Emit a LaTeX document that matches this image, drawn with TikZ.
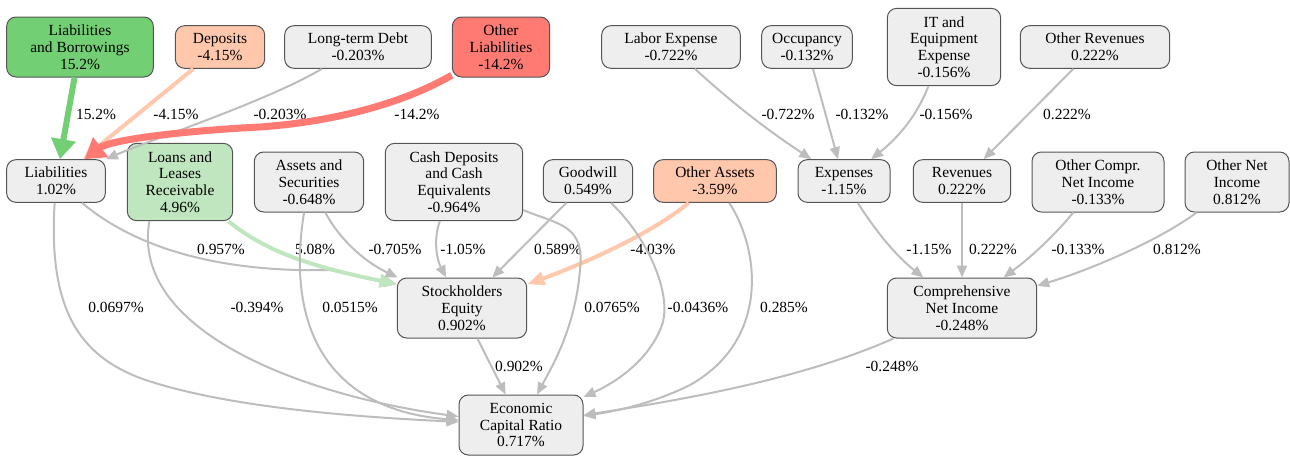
\documentclass[tikz,border=0pt]{standalone}
\usepackage{fontspec}
\setmainfont{Liberation Serif}
\newfontfamily\chartfont{Liberation Serif}
\usetikzlibrary{arrows.meta}
\definecolor{nodegray}{HTML}{EEEEEE}
\definecolor{framegray}{HTML}{555555}
\definecolor{edgegray}{HTML}{BDBDBD}
\definecolor{upgreen}{HTML}{73CF73}
\definecolor{lightgreen}{HTML}{BFE6BF}
\definecolor{peach}{HTML}{FFC8AD}
\definecolor{downred}{HTML}{FF7A73}
\tikzstyle{item} = [draw=framegray, line width=0.75pt, rounded corners=7pt, fill=nodegray, align=center, inner sep=2pt]
\tikzstyle{two} = [minimum height=32pt]
\tikzstyle{three} = [minimum height=45pt]
\tikzstyle{four} = [minimum height=58pt]
\tikzstyle{pct} = [inner sep=1pt]
\tikzstyle{flow} = [line width=1.5pt, draw=edgegray, -{Triangle[length=9pt,width=7.5pt]}]
\tikzstyle{flowmid} = [line width=3pt, -{Triangle[length=13pt,width=10pt]}]
\tikzstyle{flowbig} = [line width=4.5pt, -{Triangle[length=15pt,width=18pt]}]

\begin{document}
\begin{tikzpicture}[x=0.75pt, y=-0.75pt, font=\chartfont\fontsize{11.6}{12.6}\selectfont]
\useasboundingbox (0,0) rectangle (1290,455);

% top row
\node (lb) [item, three, fill=upgreen, minimum width=110pt] at (80,47) {Liabilities\\and Borrowings\\15.2\%};
\node (dep) [item, two, fill=peach, minimum width=67pt] at (220,47) {Deposits\\-4.15\%};
\node (ltd) [item, two, minimum width=110pt] at (358,47) {Long-term Debt\\-0.203\%};
\node (ol) [item, three, fill=downred, minimum width=73pt] at (501,47) {Other\\Liabilities\\-14.2\%};
\node (labor) [item, two, minimum width=104pt] at (671,47) {Labor Expense\\-0.722\%};
\node (occ) [item, two, minimum width=68pt] at (807,47) {Occupancy\\-0.132\%};
\node (it) [item, four, minimum width=85pt] at (944,47) {IT and\\Equipment\\Expense\\-0.156\%};
\node (orev) [item, two, minimum width=112pt] at (1095,47) {Other Revenues\\0.222\%};

% middle row
\node (liab) [item, two, minimum width=74pt] at (56,181) {Liabilities\\1.02\%};
\node (loans) [item, four, fill=lightgreen, minimum width=79pt] at (180,182) {Loans and\\Leases\\Receivable\\4.96\%};
\node (as) [item, three, minimum width=82pt] at (309,182) {Assets and\\Securities\\-0.648\%};
\node (cash) [item, four, minimum width=103pt] at (454,182) {Cash Deposits\\and Cash\\Equivalents\\-0.964\%};
\node (gw) [item, two, minimum width=67pt] at (588,181) {Goodwill\\0.549\%};
\node (oa) [item, two, fill=peach, minimum width=92pt] at (715,181) {Other Assets\\-3.59\%};
\node (exp) [item, two, minimum width=69pt] at (844,181) {Expenses\\-1.15\%};
\node (rev) [item, two, minimum width=73pt] at (962,181) {Revenues\\0.222\%};
\node (ocni) [item, three, minimum width=99pt] at (1098,182) {Other Compr.\\Net Income\\-0.133\%};
\node (oni) [item, three, minimum width=78pt] at (1237,182) {Other Net\\Income\\0.812\%};

% lower rows
\node (se) [item, three, minimum width=97pt] at (462,308) {Stockholders\\Equity\\0.902\%};
\node (cni) [item, three, minimum width=112pt] at (962,308) {Comprehensive\\Net Income\\-0.248\%};
\node (ecr) [item, three, minimum width=93pt] at (521,425) {Economic\\Capital Ratio\\0.717\%};

% edge labels
\node (p-lb) [pct] at (96,114) {15.2\%};
\node (p-dep) [pct] at (176,114) {-4.15\%};
\node (p-ltd) [pct] at (280,114) {-0.203\%};
\node (p-ol) [pct] at (417,114) {-14.2\%};
\node (p-labor) [pct] at (788,114) {-0.722\%};
\node (p-occ) [pct] at (862,114) {-0.132\%};
\node (p-it) [pct] at (946,114) {-0.156\%};
\node (p-orev) [pct] at (1067,114) {0.222\%};
\node (p-liabse) [pct] at (221,249) {0.957\%};
\node (p-loansse) [pct] at (315,249) {5.08\%};
\node (p-asse) [pct] at (395,249) {-0.705\%};
\node (p-cashse) [pct] at (463,249) {-1.05\%};
\node (p-gwse) [pct] at (558,249) {0.589\%};
\node (p-oase) [pct] at (653,249) {-4.03\%};
\node (p-liabecr) [pct] at (116,307) {0.0697\%};
\node (p-loansecr) [pct] at (257,307) {-0.394\%};
\node (p-asecr) [pct] at (350,307) {0.0515\%};
\node (p-cashecr) [pct] at (612,307) {0.0765\%};
\node (p-gwecr) [pct] at (698,307) {-0.0436\%};
\node (p-oaecr) [pct] at (784,307) {0.285\%};
\node (p-seecr) [pct] at (519,366) {0.902\%};
\node (p-cniecr) [pct] at (892,366) {-0.248\%};
\node (p-exp) [pct] at (929,249) {-1.15\%};
\node (p-rev) [pct] at (993,249) {0.222\%};
\node (p-ocni) [pct] at (1078,249) {-0.133\%};
\node (p-oni) [pct] at (1177,249) {0.812\%};

% into liabilities
\draw [flow] (ltd) .. controls (270,100) and (150,140) .. (liab);
\draw [flowmid, peach] (dep) -- (liab);
\draw [flowbig, upgreen] (lb) -- (liab);
\draw [flowbig, downred, line width=5.25pt] (ol) .. controls (400,105) and (330,122) .. (260,127) .. controls (180,131) and (110,140) .. (liab);

% into expenses and revenues
\draw [flow] (labor) .. controls (740,110) and (775,135) .. (exp);
\draw [flow] (occ) -- (exp);
\draw [flow] (it) .. controls (915,120) and (895,140) .. (exp);
\draw [flow] (orev) -- (rev);

% into stockholders equity
\draw [flow] (liab) .. controls (150,260) and (250,272) .. (330,270) -- (se.160);
\draw [flowmid, lightgreen] (loans) .. controls (270,255) and (320,268) .. (se.160);
\draw [flow] (as) .. controls (340,240) and (365,262) .. (se);
\draw [flow] (cash) .. controls (433,240) and (437,260) .. (se);
\draw [flow] (gw) -- (se);
\draw [flowmid, peach] (oa) .. controls (650,235) and (580,265) .. (se);

% into comprehensive net income
\draw [flow] (exp) .. controls (875,230) and (895,255) .. (cni);
\draw [flow] (rev) -- (cni);
\draw [flow] (ocni) .. controls (1055,235) and (1030,258) .. (cni);
\draw [flow] (oni) .. controls (1160,240) and (1090,270) .. (cni);

% into economic capital ratio
\draw [flow] (liab) .. controls (48,310) and (80,355) .. (140,378) .. controls (230,410) and (380,418) .. (ecr);
\draw [flow] (loans.232) .. controls (130,330) and (300,395) .. (ecr);
\draw [flow] (as) .. controls (285,330) and (330,410) .. (ecr);
\draw [flow] (cash) .. controls (560,225) and (585,225) .. (580,270) .. controls (575,330) and (550,370) .. (ecr);
\draw [flow] (gw) .. controls (650,240) and (675,300) .. (660,330) .. controls (645,365) and (610,385) .. (ecr);
\draw [flow] (oa) .. controls (760,250) and (770,340) .. (690,385) .. controls (650,405) and (610,412) .. (ecr);
\draw [flow] (se) -- (ecr);
\draw [flow] (cni) .. controls (800,380) and (680,400) .. (ecr);
\end{tikzpicture}
\end{document}
